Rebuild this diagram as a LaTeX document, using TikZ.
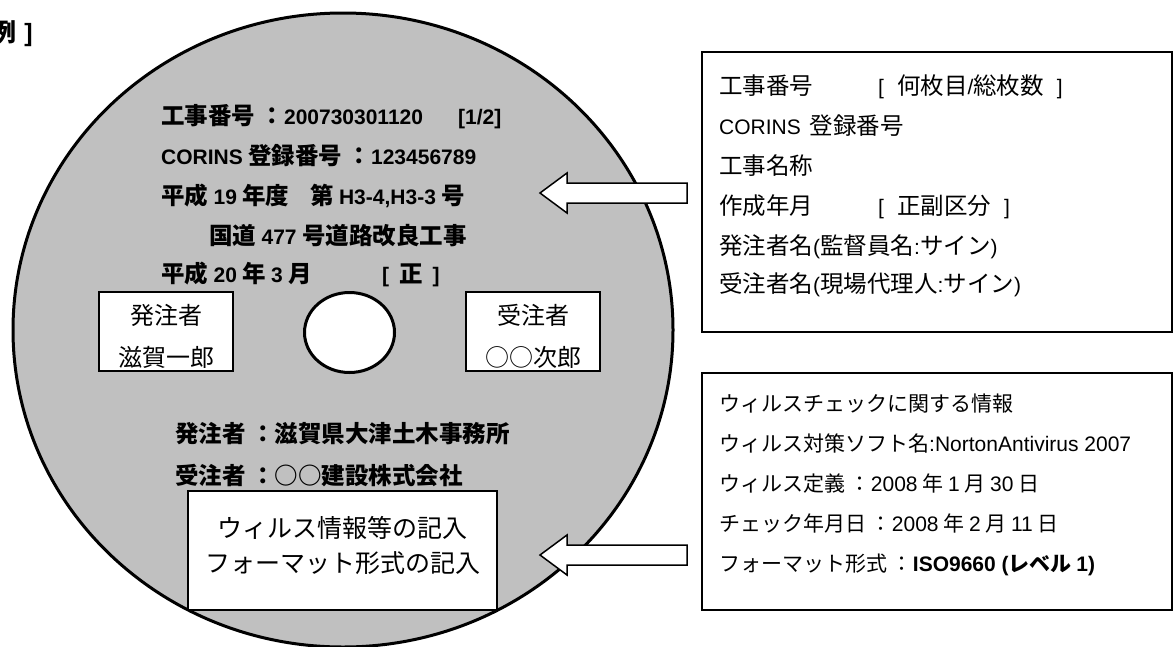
\documentclass[tikz,border=0pt]{standalone}
\usepackage{fontspec}
\setmainfont{Noto Sans CJK JP}
\newfontfamily\latf{Liberation Sans}
\usetikzlibrary{shapes.geometric,calc}
\definecolor{diskgray}{HTML}{C0C0C0}
\newcommand\la[1]{{\latf\fontsize{21}{26}\selectfont #1}}
\newcommand\lb[1]{{\latf\fontsize{21}{26}\selectfont #1}}
\tikzset{
  jt/.style={anchor=base west, inner sep=0pt, font=\fontsize{23.5}{28}\selectfont},
  jb/.style={anchor=base west, inner sep=0pt, font=\fontsize{23.5}{28}\selectfont\bfseries},
  jsmall/.style={anchor=base west, inner sep=0pt, font=\fontsize{21}{26}\selectfont},
  jbig/.style={anchor=base, inner sep=0pt, font=\fontsize{25}{30}\selectfont},
  boxw/.style={draw, line width=1.5pt, fill=white, inner sep=0pt, rectangle},
  blockarrow/.style={draw, line width=1.5pt, fill=white, line join=miter},
}
\begin{document}
\begin{tikzpicture}[x=1pt,y=-1pt]
\useasboundingbox (0,0) rectangle (1175,646);
\fill[white] (0,0) rectangle (1175,646);

% title (cut at the left edge, as in the reference)
\node[anchor=base east, inner sep=0pt, font=\fontsize{25}{30}\selectfont\bfseries] (title) at (33,41) {例\hspace{8pt}{\latf ]}};

% disc
\node[ellipse, draw, line width=3pt, fill=diskgray, minimum width=660pt, minimum height=634pt, inner sep=0pt] (disk) at (343,330) {};
\node[ellipse, draw, line width=3pt, fill=white, minimum width=90pt, minimum height=80pt, inner sep=0pt] (hole) at (349.5,332.5) {};

% disc texts
\node[jb] (l1) at (161,124) {工事番号 ：\la{200730301120}};
\node[jb] (l1b) at (458,124) {\la{[1/2]}};
\node[jb] (l2) at (161,164) {\la{CORINS} 登録番号 ：\la{123456789}};
\node[jb] (l3) at (161,204) {平成 \la{19} 年度};
\node[jb] (l3b) at (310,204) {第 \la{H3-4,H3-3} 号};
\node[jb] (l4) at (209,244) {国道 \la{477} 号道路改良工事};
\node[jb] (l5) at (161,282) {平成 \la{20} 年 \la{3} 月};
\node[jb] (l5b) at (382,282) {\la{[}\hspace{10pt}正\hspace{10pt}\la{]}};

% signature boxes
\node[boxw, minimum width=134pt, minimum height=79pt] (sigL) at (166,331.5) {};
\node[boxw, minimum width=134pt, minimum height=79pt] (sigR) at (533,331.5) {};
\node[anchor=base, inner sep=0pt, font=\fontsize{24}{28}\selectfont] (sigL1) at (166,324) {発注者};
\node[anchor=base, inner sep=0pt, font=\fontsize{24}{28}\selectfont] (sigL2) at (166,366) {滋賀一郎};
\node[anchor=base, inner sep=0pt, font=\fontsize{24}{28}\selectfont] (sigR1) at (533,324) {受注者};
\node[anchor=base, inner sep=0pt, font=\fontsize{24}{28}\selectfont] (sigR2) at (533,366) {○○次郎};

% lower disc texts
\node[jb] (l6) at (175,442) {発注者 ：滋賀県大津土木事務所};
\node[jb] (l7) at (175,484) {受注者 ：○○建設株式会社};

% virus info box on disc
\node[boxw, minimum width=309pt, minimum height=119pt] (vbox) at (342.5,550.5) {};
\node[jbig] (v1) at (342.5,537) {ウィルス情報等の記入};
\node[jbig] (v2) at (342.5,572) {フォーマット形式の記入};

% arrows
\coordinate (a1tip) at (540,193);
\coordinate (a1tail) at (687,193);
\draw[blockarrow] (a1tip) -- ($(a1tip)+(27,-20)$) -- ($(a1tip)+(27,-10)$) -- ($(a1tail)+(0,-10)$)
  -- ($(a1tail)+(0,10)$) -- ($(a1tip)+(27,10)$) -- ($(a1tip)+(27,20)$) -- cycle;
\coordinate (a2tip) at (540,555);
\coordinate (a2tail) at (687,555);
\draw[blockarrow] (a2tip) -- ($(a2tip)+(27,-20)$) -- ($(a2tip)+(27,-10)$) -- ($(a2tail)+(0,-10)$)
  -- ($(a2tail)+(0,10)$) -- ($(a2tip)+(27,10)$) -- ($(a2tip)+(27,20)$) -- cycle;

% right upper box
\node[boxw, minimum width=470pt, minimum height=280pt] (box1) at (937,192) {};
\node[jt] (r1) at (719,94) {工事番号};
\node[jt] (r1b) at (878,94) {\la{[}\hspace{13pt}何枚目\la{/}総枚数\hspace{13pt}\la{]}};
\node[jt] (r2) at (719,134) {\la{CORINS}\hspace{9pt}登録番号};
\node[jt] (r3) at (719,174) {工事名称};
\node[jt] (r4) at (719,214) {作成年月};
\node[jt] (r4b) at (878,214) {\la{[}\hspace{13pt}正副区分\hspace{13pt}\la{]}};
\node[jt] (r5) at (719,254) {発注者名\la{(}監督員名\la{:}サイン\la{)}};
\node[jt] (r6) at (719,292) {受注者名\la{(}現場代理人\la{:}サイン\la{)}};

% right lower box
\node[boxw, minimum width=470pt, minimum height=237pt] (box2) at (937,491.5) {};
\node[jsmall] (s1) at (719,411) {ウィルスチェックに関する情報};
\node[jsmall] (s2) at (719,451) {ウィルス対策ソフト名\lb{:NortonAntivirus 2007}};
\node[jsmall] (s3) at (719,491) {ウィルス定義 ：\lb{2008} 年 \lb{1} 月 \lb{30} 日};
\node[jsmall] (s4) at (719,531) {チェック年月日 ：\lb{2008} 年 \lb{2} 月 \lb{11} 日};
\node[jsmall] (s5) at (719,571) {フォーマット形式 ：{\bfseries\lb{ISO9660 (}レベル \lb{1)}}};
\end{tikzpicture}
\end{document}
